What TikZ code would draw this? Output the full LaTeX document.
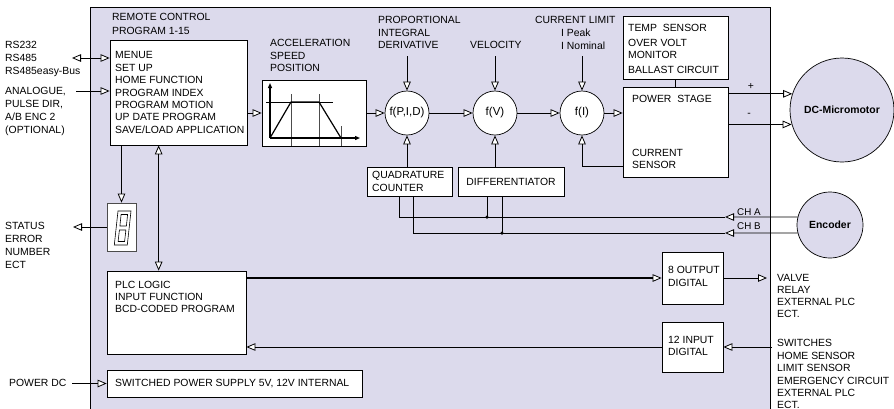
\documentclass[tikz,border=0pt]{standalone}
\usepackage{fontspec}
\setmainfont{Liberation Sans}
\usetikzlibrary{arrows.meta,calc}
\definecolor{panel}{HTML}{DCDAEC}
\tikzset{
  otri/.tip={Triangle[fill=white, length=9pt, width=7.5pt, line width=0.8pt]},
  btri/.tip={Triangle[length=5pt, width=4pt]},
}
\begin{document}
\begin{tikzpicture}[x=1pt,y=-1pt,
  box/.style={draw, fill=white, line width=0.7pt, inner sep=0pt, rectangle},
  fcirc/.style={draw, fill=white, circle, line width=0.7pt, minimum size=44pt, inner sep=0pt, font=\fontsize{11.5}{13}\selectfont},
  bigcirc/.style={draw, fill=panel, circle, line width=0.7pt, inner sep=0pt, font=\bfseries\fontsize{10.4}{12}\selectfont},
  txt/.style={inner sep=0pt, anchor=north west, align=left, font=\fontsize{10.4}{12.4}\selectfont},
  con/.style={line width=0.8pt},
  thickcon/.style={line width=1.3pt},
  arr/.style={-otri, line width=0.8pt},
  darr/.style={otri-otri, line width=0.8pt},
  dot/.style={circle, fill=black, inner sep=0pt, minimum size=3.5pt},
]
\useasboundingbox (0,0) rectangle (894,408);
\clip (0,0) rectangle (894,408);
\fill[white] (0,0) rectangle (894,408);

% main panel
\draw[fill=panel, line width=0.7pt] (90,7) rectangle (770,430);

% boxes
\node[box, minimum width=137pt, minimum height=105pt] (menu) at (178.5,92.5) {};
\node[box, minimum width=104pt, minimum height=66pt] (ramp) at (314,113) {};
\node[box, minimum width=105pt, minimum height=63pt] (temp) at (675.5,47.5) {};
\node[box, minimum width=105pt, minimum height=90pt] (power) at (675.5,132) {};
\node[box, minimum width=85pt, minimum height=29pt] (quad) at (409.5,181.5) {};
\node[box, minimum width=106pt, minimum height=29pt, font=\fontsize{10.4}{12}\selectfont] (diff) at (511,181.5) {DIFFERENTIATOR};
\node[box, minimum width=29pt, minimum height=48pt, draw=black!70] (seg) at (121.5,227) {};
\node[box, minimum width=139pt, minimum height=83pt] (plc) at (176.5,312.5) {};
\node[box, minimum width=61pt, minimum height=52pt] (out8) at (692.5,278) {};
\node[box, minimum width=61pt, minimum height=50pt] (in12) at (692.5,347) {};
\node[box, minimum width=255pt, minimum height=27pt] (psu) at (234.5,383.5) {};

% circles
\node[fcirc] (pid) at (407,113) {f(P,I,D)};
\node[fcirc] (vel) at (495,113) {f(V)};
\node[fcirc] (cur) at (582,113) {f(I)};
\node[bigcirc, minimum size=104pt] (motor) at (842,110) {DC-Micromotor};
\node[bigcirc, minimum size=66pt] (enc) at (830,225) {Encoder};

% texts
\node[txt, font=\fontsize{10.4}{13.5}\selectfont] (tRC) at (112,13.5) {REMOTE CONTROL\\PROGRAM 1-15};
\node[txt, font=\fontsize{10.4}{13}\selectfont] (tRS) at (5,41.5) {RS232\\RS485\\RS485easy-Bus};
\node[txt, font=\fontsize{10.4}{12.7}\selectfont] (tAN) at (5,87.5) {ANALOGUE,\\PULSE DIR,\\A/B ENC 2\\(OPTIONAL)};
\node[txt] (tMenu) at (115,51.5) {MENUE\\SET UP\\HOME FUNCTION\\PROGRAM INDEX\\PROGRAM MOTION\\UP DATE PROGRAM\\SAVE/LOAD APPLICATION};
\node[txt, font=\fontsize{10.4}{12.5}\selectfont] (tAcc) at (270,39.5) {ACCELERATION\\SPEED\\POSITION};
\node[txt, font=\fontsize{10.4}{12.5}\selectfont] (tPID) at (378,16.5) {PROPORTIONAL\\INTEGRAL\\DERIVATIVE};
\node[txt] (tVel) at (470,41.5) {VELOCITY};
\node[txt] (tCL) at (535,16.5) {CURRENT LIMIT};
\node[txt, font=\fontsize{10.4}{13}\selectfont] (tIP) at (561,28.5) {I Peak\\I Nominal};
\node[txt] (tTS) at (628,24.5) {TEMP~ SENSOR};
\node[txt, font=\fontsize{10.4}{12}\selectfont] (tOV) at (628,39.5) {OVER VOLT\\MONITOR};
\node[txt] (tBC) at (628,66.5) {BALLAST CIRCUIT};
\node[txt] (tPS) at (632,95.5) {POWER~ STAGE};
\node[txt, font=\fontsize{10.4}{12}\selectfont] (tCS) at (632,149.5) {CURRENT\\SENSOR};
\node[txt, font=\fontsize{10.4}{13}\selectfont] (tQC) at (372,171.5) {QUADRATURE\\COUNTER};
\node[txt, font=\fontsize{10.4}{12.7}\selectfont] (tST) at (5,222.5) {STATUS\\ERROR\\NUMBER\\ECT};
\node[txt, font=\fontsize{10.4}{12}\selectfont] (tPLC) at (115,281.5) {PLC LOGIC\\INPUT FUNCTION\\BCD-CODED PROGRAM};
\node[txt, font=\fontsize{10.4}{13}\selectfont] (tO8) at (668,266.5) {8 OUTPUT\\DIGITAL};
\node[txt, font=\fontsize{10.4}{12}\selectfont] (tI12) at (668,336.5) {12 INPUT\\DIGITAL};
\node[txt, font=\fontsize{10.4}{11.8}\selectfont] (tVA) at (777,274.5) {VALVE\\RELAY\\EXTERNAL PLC\\ECT.};
\node[txt, font=\fontsize{10.4}{12.4}\selectfont] (tSW) at (777,339.5) {SWITCHES\\HOME SENSOR\\LIMIT SENSOR\\EMERGENCY CIRCUIT\\EXTERNAL PLC\\ECT.};
\node[txt] (tPSU) at (115,379.5) {SWITCHED POWER SUPPLY 5V, 12V INTERNAL};
\node[txt] (tPDC) at (9,379.5) {POWER DC};
\node[txt, font=\fontsize{9.8}{11}\selectfont] (tCHA) at (737,208.5) {CH A};
\node[txt, font=\fontsize{9.8}{11}\selectfont] (tCHB) at (737,222.5) {CH B};
\node[font=\fontsize{10.4}{12}\selectfont, inner sep=0pt] (tPlus) at (751,86) {+};
\node[font=\fontsize{10.4}{12}\selectfont, inner sep=0pt] (tMinus) at (749,115) {-};

% ramp profile drawing
\draw[line width=0.9pt, black!70] (291,94) -- (291,146);
\draw[line width=0.9pt, black!70] (319,94) -- (319,146);
\draw[line width=0.9pt, black!70] (341,126) -- (341,146);
\draw[line width=0.8pt] (266,102) -- (333,102);
\draw[line width=1.2pt, -btri] (270,138) -- (270,83);
\draw[line width=1.2pt, -btri] (270,138) -- (360,138);
\draw[line width=1.2pt, line join=round] (270,138) -- (291,102) -- (319,102) -- (341,138);

% seven segment digit
\draw[line width=0.6pt] (118,211) -- (131,211) -- (127.3,245) -- (114.3,245) -- cycle;
\draw[line width=0.6pt] (121.1,214.5) -- (127.6,214.5) -- (126.4,226) -- (119.9,226) -- cycle;
\draw[line width=0.6pt] (119.4,230) -- (125.9,230) -- (124.6,241.5) -- (118.1,241.5) -- cycle;

% coordinates for free ends
\coordinate (rsL) at (72,58);
\coordinate (anL) at (76,91);
\coordinate (stL) at (73,227);
\coordinate (pdcL) at (72,383.5);
\coordinate (pidIn) at (407,56);
\coordinate (velIn) at (495,56);
\coordinate (curIn) at (582,56);
\coordinate (fb) at (623,166);
\coordinate (chA) at (725,217);
\coordinate (chB) at (725,233);
\coordinate (outR) at (767,278);
\coordinate (swin) at (772,347);
\coordinate (qa) at ([xshift=-10.5pt]quad.south);
\coordinate (qb) at ([xshift=3.5pt]quad.south);
\coordinate (da) at ([xshift=-24pt]diff.south);
\coordinate (db) at ([xshift=-9pt]diff.south);
\coordinate (m1) at ([xshift=49pt]menu.south west);

% connectors
\draw[darr] (rsL) -- (rsL -| menu.west);
\draw[arr] (anL) -- (anL -| menu.west);
\draw[arr] (menu.east |- ramp.west) -- (ramp.west);
\draw[arr] (ramp.east) -- (pid.west);
\draw[arr] (pid.east) -- (vel.west);
\draw[arr] (vel.east) -- (cur.west);
\draw[arr] (cur.east) -- (cur.east -| power.west);
\draw[arr] (pidIn) -- (pid.north);
\draw[arr] (velIn) -- (vel.north);
\draw[arr] (curIn) -- (cur.north);
\draw[arr] (pid.south |- quad.north) -- (pid.south);
\draw[arr] (vel.south |- diff.north) -- (vel.south);
\draw[arr] (fb) -| (cur.south);
\draw[con] (temp.south) -- (power.north);
\draw[arr] (power.east |- motor.162) -- (motor.162);
\draw[arr] (power.east |- motor.196) -- (motor.196);
\draw[arr] (enc.166) -- (chA);
\draw[arr] (enc.194) -- (chB);
\draw[con] (qa) |- (chA);
\draw[con] (qb) |- (chB);
\draw[con] (da) -- (da |- chA) node[dot] {};
\draw[con] (db) -- (db |- chB) node[dot] {};
\draw[arr] (seg.north |- menu.south) -- (seg.north);
\draw[arr] (seg.west) -- (stL);
\draw[darr] (m1) -- (m1 |- plc.north);
\draw[arr, thickcon] (plc.east |- out8.west) -- (out8.west);
\draw[arr] (out8.east) -- (outR);
\draw[arr] (swin) -- (in12.east);
\draw[arr] (in12.west) -- (in12.west -| plc.east);
\draw[arr] (pdcL) -- (psu.west);
\end{tikzpicture}
\end{document}
